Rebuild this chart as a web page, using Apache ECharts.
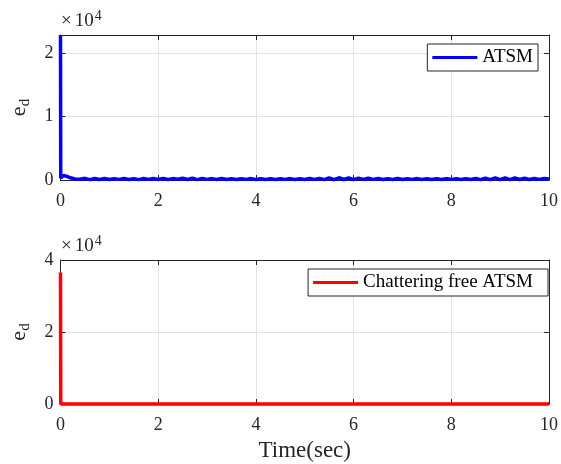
<!DOCTYPE html>
<html>
<head>
<meta charset="UTF-8">
<title>ed</title>
<script src="https://cdn.jsdelivr.net/npm/echarts@6/dist/echarts.min.js"></script>
<style>
  body { margin: 0; background: #fff; }
  #main { width: 561px; height: 464px; }
</style>
</head>
<body>
<div id="main"></div>
<script>
// top subplot: ATSM (chattering band near zero after the initial peak)
var topT = [0, 0.005, 0.06, 0.12, 0.2, 0.3,
  0.4, 0.5, 0.6, 0.7, 0.8, 0.9, 1.0, 1.1, 1.2, 1.3,
  1.4, 1.5, 1.6, 1.7, 1.8, 1.9, 2.0, 2.1, 2.2, 2.3,
  2.4, 2.5, 2.6, 2.7, 2.8, 2.9, 3.0, 3.1, 3.2, 3.3,
  3.4, 3.5, 3.6, 3.7, 3.8, 3.9, 4.0, 4.1, 4.2, 4.3,
  4.4, 4.5, 4.6, 4.7, 4.8, 4.9, 5.0, 5.1, 5.2, 5.3,
  5.4, 5.5, 5.6, 5.7, 5.8, 5.9, 6.0, 6.1, 6.2, 6.3,
  6.4, 6.5, 6.6, 6.7, 6.8, 6.9, 7.0, 7.1, 7.2, 7.3,
  7.4, 7.5, 7.6, 7.7, 7.8, 7.9, 8.0, 8.1, 8.2, 8.3,
  8.4, 8.5, 8.6, 8.7, 8.8, 8.9, 9.0, 9.1, 9.2, 9.3,
  9.4, 9.5, 9.6, 9.7, 9.8, 9.9, 10.0];
var topE = [22800, 300, 700, 600, 350, 150,
  120, 260, 60, 240, 90, 230, 70, 210, 100, 250,
  80, 220, 60, 240, 100, 230, 70, 260, 90, 220,
  110, 280, 80, 300, 60, 250, 100, 220, 80, 230,
  90, 210, 70, 200, 100, 220, 80, 190, 90, 210,
  70, 200, 100, 220, 80, 210, 90, 240, 100, 260,
  60, 330, 50, 350, 80, 320, 60, 300, 90, 280,
  100, 240, 80, 220, 90, 230, 70, 210, 100, 220,
  80, 200, 90, 210, 70, 220, 100, 190, 80, 210,
  90, 250, 60, 300, 50, 340, 70, 320, 60, 310,
  80, 280, 90, 250, 100, 240, 150];
// bottom subplot: chattering free ATSM
var botT = [0, 0.005, 10];
var botE = [36500, 0, 0];
var xTicks = [0, 2, 4, 6, 8, 10];

var font = 'Liberation Serif';
var axisCol = '#262626';

function pairs(t, v) {
  var out = [];
  for (var i = 0; i < t.length; i++) out.push([t[i], v[i]]);
  return out;
}

function xAx(grid, pos, labels) {
  return {
    type: 'value', gridIndex: grid, position: pos, min: xTicks[0], max: xTicks[xTicks.length - 1], interval: 2,
    axisLine: { show: true, onZero: false, lineStyle: { color: axisCol, width: 1 } },
    axisTick: { show: true, inside: true, length: 5, lineStyle: { color: axisCol } },
    axisLabel: { show: labels, color: axisCol, fontFamily: font, fontSize: 18, margin: 12 },
    splitLine: { show: pos === 'bottom', lineStyle: { color: '#e3e3e3' } }
  };
}

function yAx(grid, pos, max, step, labels) {
  return {
    type: 'value', gridIndex: grid, position: pos, min: 0, max: max, interval: step,
    axisLine: { show: true, onZero: false, lineStyle: { color: axisCol, width: 1 } },
    axisTick: { show: true, inside: true, length: 5, lineStyle: { color: axisCol } },
    axisLabel: {
      show: labels, color: axisCol, fontFamily: font, fontSize: 18, margin: 7,
      formatter: function (v) { return v % 10000 === 0 ? String(v / 10000) : ''; }
    },
    splitLine: { show: pos === 'left', lineStyle: { color: '#e3e3e3' } },
    name: labels ? 'e{s|d}' : '', nameLocation: 'middle', nameRotate: 90, nameGap: 28,
    nameTextStyle: {
      color: axisCol, fontFamily: font, fontSize: 22,
      rich: { s: { fontFamily: font, fontSize: 15, color: axisCol, padding: [12, 0, 0, 0] } }
    }
  };
}

function expLabel(top) {
  return {
    type: 'text', left: 61, top: top,
    style: {
      text: '{x|×}{n|10}{p|4}',
      rich: {
        x: { fontFamily: font, fontSize: 19, fill: axisCol, padding: [0, 3, 0, 0] },
        n: { fontFamily: font, fontSize: 19, fill: axisCol, padding: [0, 1, 0, 0] },
        p: { fontFamily: font, fontSize: 14, fill: axisCol, padding: [0, 0, 11, 0] }
      }
    }
  };
}

var legendBase = {
  icon: 'rect', itemWidth: 45, itemHeight: 3,
  borderColor: axisCol, borderWidth: 1, backgroundColor: '#fff',
  textStyle: { color: '#000', fontFamily: font, fontSize: 19 }
};

var chart = echarts.init(document.getElementById('main'));
var xb = xAx(1, 'bottom', true);
xb.name = 'Time(sec)';
xb.nameLocation = 'middle';
xb.nameGap = 35;
xb.nameTextStyle = { color: axisCol, fontFamily: font, fontSize: 23 };

var option = {
  animation: false,
  backgroundColor: '#fff',
  grid: [
    { left: 59, right: 11, top: 35, height: 145 },
    { left: 59, right: 11, top: 260, height: 144 }
  ],
  xAxis: [xAx(0, 'bottom', true), xAx(0, 'top', false), xb, xAx(1, 'top', false)],
  yAxis: [yAx(0, 'left', 22800, 10000, true), yAx(0, 'right', 22800, 10000, false),
          yAx(1, 'left', 40000, 20000, true), yAx(1, 'right', 40000, 20000, false)],
  legend: [
    Object.assign({ data: ['ATSM'], right: 23, top: 44, padding: [4, 5, 4, 5] }, legendBase),
    Object.assign({ data: ['Chattering free ATSM'], right: 13, top: 269, padding: [4, 15, 4, 5] }, legendBase)
  ],
  graphic: [expLabel(9), expLabel(234)],
  series: [
    {
      name: 'ATSM', type: 'line', xAxisIndex: 0, yAxisIndex: 0,
      data: pairs(topT, topE), showSymbol: false, clip: false,
      lineStyle: { color: '#0000ff', width: 3.5 }, itemStyle: { color: '#0000ff' }
    },
    {
      name: 'Chattering free ATSM', type: 'line', xAxisIndex: 2, yAxisIndex: 2,
      data: pairs(botT, botE), showSymbol: false, clip: false,
      lineStyle: { color: '#ff0000', width: 3.5 }, itemStyle: { color: '#ff0000' }
    }
  ]
};
chart.setOption(option);
</script>
</body>
</html>
